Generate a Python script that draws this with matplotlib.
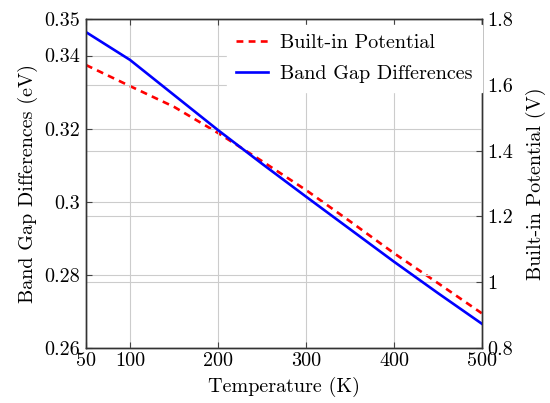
import matplotlib
matplotlib.use('Agg')
import matplotlib.pyplot as plt
from matplotlib.ticker import FuncFormatter

plt.rcParams['font.family'] = 'serif'
plt.rcParams['font.serif'] = ['cmr10', 'DejaVu Serif']
plt.rcParams['axes.formatter.use_mathtext'] = True

temperature = [50, 100, 150, 200, 250, 300, 350, 400, 450, 500]
band_gap = [0.3464, 0.3388, 0.3292, 0.3196, 0.3104, 0.3014, 0.2925, 0.2836, 0.2750, 0.2666]
built_in = [1.660, 1.596, 1.533, 1.4535, 1.368, 1.280, 1.185, 1.088, 0.997, 0.905]

x_ticks = [50, 100, 200, 300, 400, 500]
left_ticks = [0.26, 0.28, 0.30, 0.32, 0.34, 0.35]
right_ticks = [0.8, 1.0, 1.2, 1.4, 1.6, 1.8]

fs = 14.5

fig = plt.figure(figsize=(5.5, 4.03), dpi=100)
ax = fig.add_axes([0.1564, 0.1365, 0.72, 0.8164])
ax2 = ax.twinx()
# left axis on top so blue line sits over the right-axis grid
ax.set_zorder(ax2.get_zorder() + 1)
ax.patch.set_visible(False)

grid_kw = dict(color='#cccccc', linewidth=0.8)
fmt = FuncFormatter(lambda v, p: '%g' % v)

red, = ax2.plot(temperature, built_in, color='red', lw=1.9, ls=(0, (2.6, 2.0)),
                label='Built-in Potential')
blue, = ax.plot(temperature, band_gap, color='blue', lw=1.9,
                label='Band Gap Differences')

ax.set_xlim(50, 500)
ax.set_ylim(0.26, 0.35)
ax2.set_ylim(0.8, 1.8)
ax.set_xticks(x_ticks)
ax.set_yticks(left_ticks)
ax2.set_yticks(right_ticks)
ax.xaxis.set_major_formatter(fmt)
ax.yaxis.set_major_formatter(fmt)
ax2.yaxis.set_major_formatter(fmt)

ax.grid(True, **grid_kw)
ax2.grid(True, axis='y', **grid_kw)
ax.set_axisbelow(True)
ax2.set_axisbelow(True)

ax.tick_params(axis='both', direction='in', length=4, width=0.8, color='#444444',
               labelsize=fs, top=True, pad=4)
ax.tick_params(axis='x', pad=3)
ax.tick_params(axis='y', right=False)
ax2.tick_params(axis='y', direction='in', length=4, width=0.8, color='#444444',
                labelsize=fs, pad=4)
for a in (ax, ax2):
    for s in a.spines.values():
        s.set_color('#333333')
        s.set_linewidth(1.0)

ax.set_xlabel('Temperature (K)', fontsize=fs, labelpad=5)
ax.set_ylabel('Band Gap Differences (eV)', fontsize=fs, labelpad=5)
ax2.set_ylabel('Built-in Potential (V)', fontsize=fs, labelpad=9)

leg = ax.legend(handles=[red, blue], loc='upper right', fontsize=fs,
                bbox_to_anchor=(1.0, 1 - 6 / 329),
                frameon=True, facecolor='white', edgecolor='white', framealpha=1,
                fancybox=False, handlelength=1.6, handletextpad=0.6,
                labelspacing=0.65, borderaxespad=0.0, borderpad=0.45)
leg.set_zorder(10)

fig.savefig('out.png', dpi=100)
